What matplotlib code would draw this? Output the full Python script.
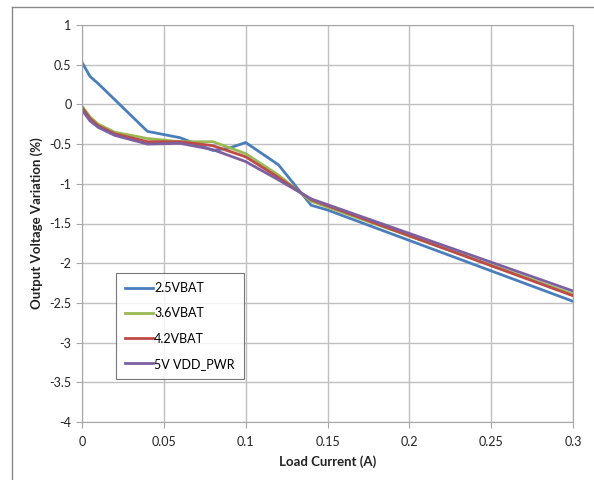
import matplotlib
matplotlib.use("Agg")
import matplotlib.pyplot as plt
from matplotlib.lines import Line2D

plt.rcParams['font.family'] = ['Lato', 'DejaVu Sans']

# load current (A)
x_blue = [0, 0.005, 0.01, 0.02, 0.04, 0.06, 0.08, 0.09, 0.1, 0.12, 0.14, 0.15, 0.3]
y_blue = [0.53, 0.35, 0.26, 0.06, -0.34, -0.42, -0.58, -0.55, -0.48, -0.76, -1.27, -1.33, -2.48]

x_other = [0, 0.005, 0.01, 0.02, 0.04, 0.06, 0.08, 0.1, 0.12, 0.14, 0.3]
y_green = [-0.02, -0.16, -0.25, -0.35, -0.43, -0.47, -0.47, -0.62, -0.89, -1.22, -2.39]
y_red = [-0.04, -0.18, -0.27, -0.37, -0.47, -0.47, -0.52, -0.66, -0.92, -1.20, -2.41]
y_purple = [-0.07, -0.21, -0.29, -0.39, -0.50, -0.49, -0.57, -0.72, -0.95, -1.19, -2.35]

labels = ['2.5VBAT', '3.6VBAT', '4.2VBAT', '5V VDD_PWR']
colors = ['#4A7EBB', '#98B954', '#BE4B48', '#7D60A0']

x_ticks = [0, 0.05, 0.1, 0.15, 0.2, 0.25, 0.3]
x_tick_labels = ['0', '0.05', '0.1', '0.15', '0.2', '0.25', '0.3']
y_ticks = [1, 0.5, 0, -0.5, -1, -1.5, -2, -2.5, -3, -3.5, -4]
y_tick_labels = ['1', '0.5', '0', '-0.5', '-1', '-1.5', '-2', '-2.5', '-3', '-3.5', '-4']

fig = plt.figure(figsize=(5.94, 4.8), dpi=100)
ax = fig.add_axes([82 / 594, 1 - 422 / 480, 491 / 594, 397 / 480])

# chart area border (left and top only visible)
fig.add_artist(Line2D([12 / 594, 12 / 594], [0, 1 - 7 / 480], color='#888888', lw=1.0))
fig.add_artist(Line2D([12 / 594, 1], [1 - 7 / 480, 1 - 7 / 480], color='#888888', lw=1.0))

ax.plot(x_blue, y_blue, color=colors[0], lw=2, label=labels[0])
ax.plot(x_other, y_green, color=colors[1], lw=2, label=labels[1])
ax.plot(x_other, y_red, color=colors[2], lw=2, label=labels[2])
ax.plot(x_other, y_purple, color=colors[3], lw=2, label=labels[3])

ax.set_xlim(0, 0.3)
ax.set_ylim(-4, 1)
ax.set_xticks(x_ticks)
ax.set_xticklabels(x_tick_labels)
ax.set_yticks(y_ticks)
ax.set_yticklabels(y_tick_labels)
ax.grid(True, color='#bfbfbf', lw=1.0)
ax.set_axisbelow(True)
for s in ax.spines.values():
    s.set_color('#a6a6a6')
ax.tick_params(axis='both', colors='#a6a6a6', labelcolor='#222222', labelsize=9, length=4, width=0.8)
ax.tick_params(axis='x', pad=6)

ax.set_xlabel('Load Current (A)', fontsize=9.5, fontweight='bold', color='#222222', labelpad=5)
ax.set_ylabel('Output Voltage Variation (%)', fontsize=9.5, fontweight='bold', color='#222222', labelpad=5)

leg = ax.legend(loc='lower left', bbox_to_anchor=(0.069, 0.108), fontsize=9, frameon=True,
                fancybox=False, edgecolor='#555555', handlelength=2.2, handletextpad=0.1,
                labelspacing=1.05, borderpad=0.75, borderaxespad=0)
leg.get_frame().set_linewidth(0.8)

fig.savefig('out.png', dpi=100)
